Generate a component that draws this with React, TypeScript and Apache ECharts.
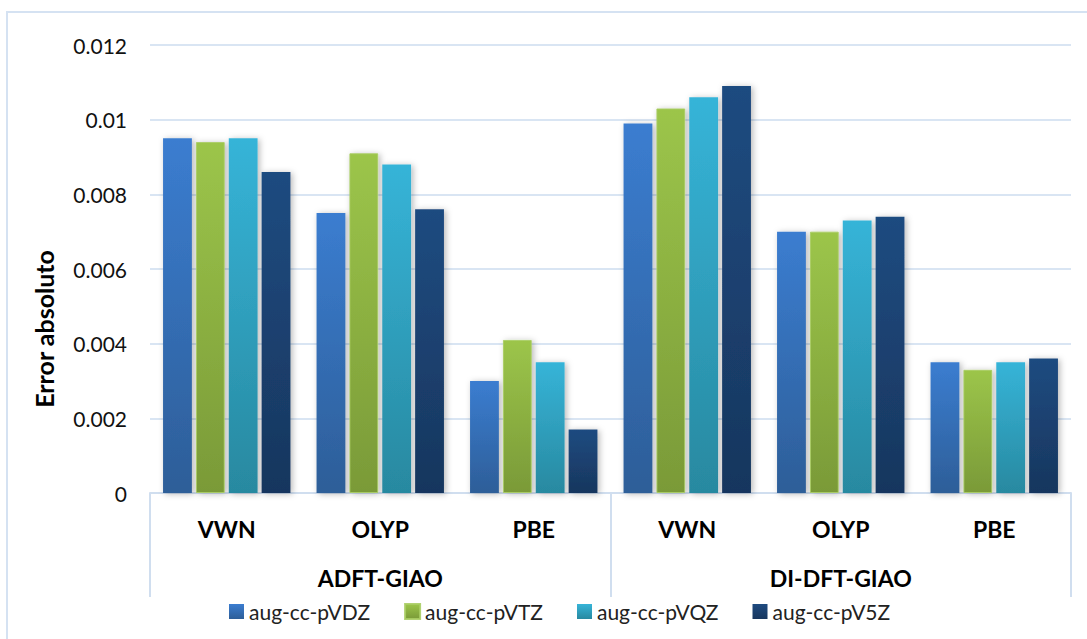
import React, { useEffect, useRef } from "react";
import * as echarts from "echarts";

const categories = ["VWN", "OLYP", "PBE", "VWN", "OLYP", "PBE"];
const groups = ["ADFT-GIAO", "DI-DFT-GIAO"];
const seriesNames = ["aug-cc-pVDZ", "aug-cc-pVTZ", "aug-cc-pVQZ", "aug-cc-pV5Z"];
const pVDZ = [0.0095, 0.0075, 0.003, 0.0099, 0.007, 0.0035];
const pVTZ = [0.0094, 0.0091, 0.0041, 0.0103, 0.007, 0.0033];
const pVQZ = [0.0095, 0.0088, 0.0035, 0.0106, 0.0073, 0.0035];
const pV5Z = [0.0086, 0.0076, 0.0017, 0.0109, 0.0074, 0.0036];
const seriesValues = [pVDZ, pVTZ, pVQZ, pV5Z];
const colorTop = ["#3B7DD0", "#9CC54A", "#36B4D8", "#1F4B80"];
const colorBottom = ["#2D5E98", "#7A9A38", "#2889A0", "#17365E"];

const FONT = "Lato, 'Open Sans', sans-serif";

export default function App() {
  const ref = useRef<HTMLDivElement>(null);
  useEffect(() => {
    if (!ref.current) return;
    const chart = echarts.init(ref.current, null, { renderer: "svg" });
    chart.setOption({
      animation: false,
      backgroundColor: "#ffffff",
      grid: { left: 150, right: 16, top: 45, bottom: 146, containLabel: false },
      legend: {
        data: seriesNames,
        left: 224,
        top: 596,
        itemWidth: 15,
        itemHeight: 15,
        itemGap: 34,
        icon: "rect",
        textStyle: { fontFamily: FONT, fontSize: 21, color: "#222" },
      },
      graphic: [
        {
          type: "rect",
          shape: { x: 7, y: 12, width: 1200, height: 800 },
          style: { fill: "none", stroke: "#D5E2F2", lineWidth: 2 },
          silent: true,
        },
        {
          type: "text",
          x: 44,
          y: 329,
          rotation: Math.PI / 2,
          style: {
            text: "Error absoluto",
            fontFamily: FONT,
            fontSize: 25,
            fontWeight: "bold",
            fill: "#000",
            align: "center",
            verticalAlign: "middle",
          },
        },
      ],
      xAxis: [
        {
          type: "category",
          data: categories,
          position: "bottom",
          axisLine: { show: true, lineStyle: { color: "#D0DEEF", width: 2 } },
          axisTick: { show: false },
          axisLabel: {
            fontFamily: FONT,
            fontSize: 23,
            fontWeight: "bold",
            color: "#000",
            margin: 24,
            interval: 0,
          },
        },
        {
          type: "category",
          data: groups,
          position: "bottom",
          axisLine: { show: false },
          axisTick: {
            show: true,
            length: 104,
            interval: 0,
            lineStyle: { color: "#D0DEEF", width: 2 },
          },
          axisLabel: {
            fontFamily: FONT,
            fontSize: 23,
            fontWeight: "bold",
            color: "#000",
            margin: 73,
            interval: 0,
          },
        },
      ],
      yAxis: {
        type: "value",
        min: 0,
        max: 0.012,
        interval: 0.002,
        axisLine: { show: false },
        axisTick: { show: false },
        splitLine: { lineStyle: { color: "#D9E5F3", width: 2 } },
        axisLabel: {
          fontFamily: FONT,
          fontSize: 21,
          color: "#111",
          margin: 23,
          formatter: (v: number) => String(+v.toFixed(3)),
        },
      },
      series: seriesValues.map((vals, i) => ({
        name: seriesNames[i],
        type: "bar",
        xAxisIndex: 0,
        data: vals,
        barCategoryGap: "17%",
        barGap: "14%",
        itemStyle: {
          color: new echarts.graphic.LinearGradient(0, 0, 0, 1, [
            { offset: 0, color: colorTop[i] },
            { offset: 1, color: colorBottom[i] },
          ]),
          shadowBlur: 6,
          shadowColor: "rgba(0,0,0,0.28)",
          shadowOffsetX: 2,
          shadowOffsetY: 1,
          borderColor: i === 1 ? "rgba(170,205,100,0.9)" : undefined,
          borderWidth: i === 1 ? 1 : 0,
        },
      })),
    });
    return () => chart.dispose();
  }, []);
  return (
    <div
      ref={ref}
      style={{ position: "absolute", left: 0, top: 0, width: 1087, height: 639 }}
    />
  );
}
